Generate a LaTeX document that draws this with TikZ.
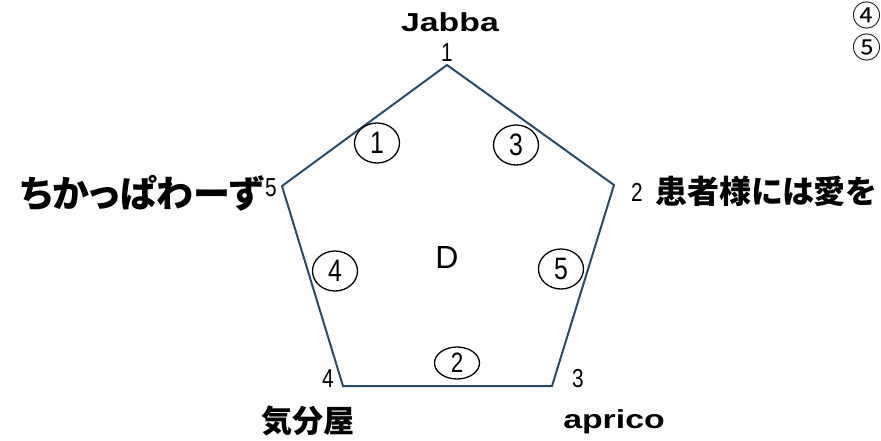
\documentclass[tikz,border=0pt]{standalone}
\usepackage{fontspec}
\setmainfont{Liberation Sans}
\newfontfamily\jpfont[RawFeature=+palt]{Noto Sans CJK JP}
\newfontfamily\widefont[FakeStretch=1.3]{Liberation Sans}
\newfontfamily\narrowfont[FakeStretch=0.8]{Liberation Sans}
\usetikzlibrary{shapes.geometric}
\definecolor{radarblue}{HTML}{2A4A6A}

\begin{document}
\begin{tikzpicture}[x=1pt,y=-1pt,every node/.style={inner sep=0pt},
    axisnum/.style={font=\narrowfont\fontsize{26}{26}\selectfont},
    circnum/.style={draw,ellipse,line width=1.3pt,minimum width=45pt,minimum height=40pt,font=\narrowfont\fontsize{31}{31}\selectfont},
    jplab/.style={font=\jpfont\bfseries\fontsize{#1}{#1}\selectfont},
    enlab/.style={font=\widefont\bfseries\fontsize{26}{26}\selectfont}]
    \useasboundingbox (0,0) rectangle (881,440);
    % corners of the pentagon
    \coordinate (v1) at (447,65);
    \coordinate (v2) at (614,185);
    \coordinate (v3) at (552,386);
    \coordinate (v4) at (343,386);
    \coordinate (v5) at (282,186);
    \draw[radarblue,line width=2pt,line join=miter] (v1) -- (v2) -- (v3) -- (v4) -- (v5) -- cycle;
    % axis numbers
    \node[axisnum] (n1) at (447,53) {1};
    \node[axisnum] (n2) at (637,192) {2};
    \node[axisnum] (n3) at (578,379) {3};
    \node[axisnum] (n4) at (328,379) {4};
    \node[axisnum] (n5) at (271,188) {5};
    % names
    \node[enlab] (jabba) at (450,22) {Jabba};
    \node[jplab=32,anchor=west] (kanja) at (655,191) {患者様には愛を};
    \node[enlab] (aprico) at (614,422) {aprico};
    \node[jplab=31] (kibun) at (308,421) {気分屋};
    \node[jplab=37,anchor=east] (chika) at (264,193) {ちかっぱわーず};
    \node[font=\fontsize{32}{32}\selectfont] (dlab) at (447,257) {D};
    % circled numbers
    \node[circnum] (c1) at (377,143) {1};
    \node[circnum] (c3) at (516,145) {3};
    \node[circnum] (c4) at (335,271) {4};
    \node[circnum] (c5) at (561,269) {5};
    \node[circnum,minimum height=32pt,font=\narrowfont\fontsize{28}{28}\selectfont] (c2) at (457,363) {2};
    \node[font=\jpfont\fontsize{29}{29}\selectfont] (m4) at (867,15) {④};
    \node[font=\jpfont\fontsize{29}{29}\selectfont] (m5) at (867,47) {⑤};
\end{tikzpicture}
\end{document}
